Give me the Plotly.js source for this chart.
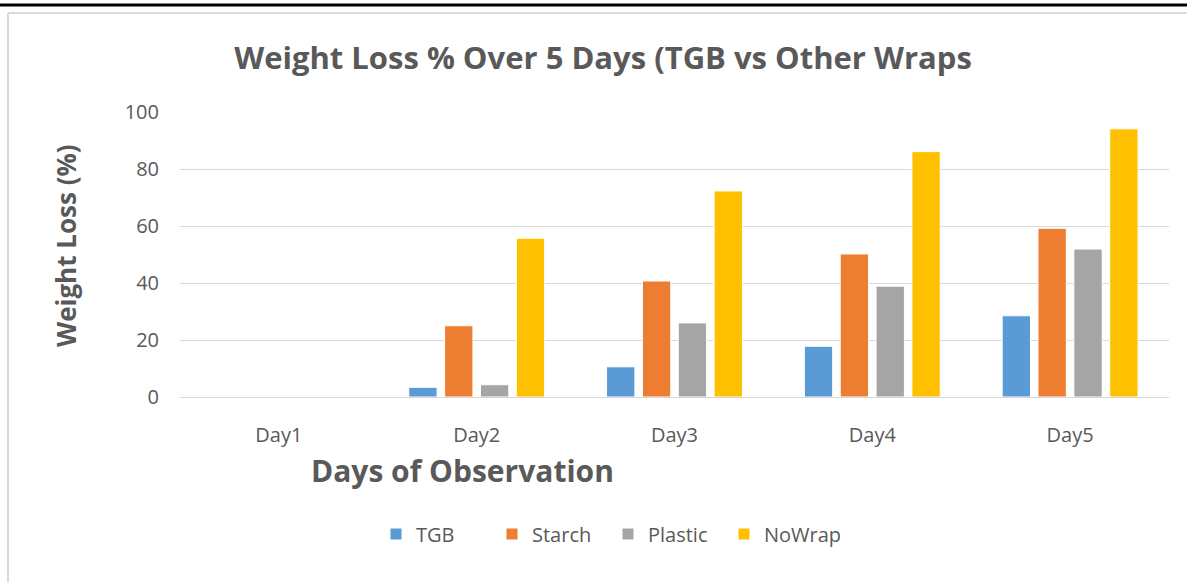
<!DOCTYPE html>
<html>
<head>
<meta charset="utf-8">
<script src="https://cdn.plot.ly/plotly-3.0.1.min.js"></script>
<style>
  html, body { margin: 0; padding: 0; background: #ffffff; }
  #chart { width: 1187px; height: 582px; }
</style>
</head>
<body>
<div id="chart"></div>
<script>
// values
const days = ['Day1', 'Day2', 'Day3', 'Day4', 'Day5'];
const tgb = [0, 3.4, 10.6, 17.8, 28.5];
const starch = [0, 25.0, 40.7, 50.2, 59.2];
const plastic = [0, 4.3, 26.0, 38.9, 51.9];
const noWrap = [0, 55.7, 72.3, 86.1, 94.1];

const seriesNames = ['TGB', 'Starch', 'Plastic', 'NoWrap'];
const seriesColors = ['#5B9BD5', '#ED7D31', '#A5A5A5', '#FFC000'];
const seriesValues = [tgb, starch, plastic, noWrap];

const textColor = '#595959';
const font = 'Open Sans, sans-serif';

let traces = [];
for (let i = 0; i < seriesNames.length; i++) {
  traces.push({
    type: 'bar',
    name: seriesNames[i],
    x: days,
    y: seriesValues[i],
    marker: { color: seriesColors[i], line: { color: '#ffffff', width: 1 } },
    hoverinfo: 'x+y+name'
  });
}

// plot area in pixels: x 180..1169, y 112..397
const px = (p) => (p - 180) / 989;
const py = (p) => (397 - p) / 285;

const layout = {
  width: 1187,
  height: 582,
  margin: { l: 180, r: 18, t: 112, b: 185 },
  paper_bgcolor: '#ffffff',
  plot_bgcolor: '#ffffff',
  font: { family: font, color: textColor, size: 20 },
  barmode: 'group',
  bargap: 0.275,
  bargroupgap: 0.21,
  title: {
    text: 'Weight Loss % Over 5 Days (TGB vs Other Wraps',
    font: { family: font, size: 31, color: textColor, weight: 'bold' },
    xref: 'container', x: 603 / 1187, xanchor: 'center',
    yref: 'container', y: 1 - 58 / 582, yanchor: 'middle'
  },
  xaxis: {
    type: 'category',
    showgrid: false,
    showline: true,
    linecolor: '#D9D9D9',
    linewidth: 1,
    ticks: '',
    ticklabelstandoff: 20,
    tickfont: { family: font, size: 20, color: textColor },
    fixedrange: true
  },
  yaxis: {
    range: [0, 100],
    dtick: 20,
    showgrid: true,
    gridcolor: '#D9D9D9',
    gridwidth: 1,
    zeroline: true,
    zerolinecolor: '#D9D9D9',
    showline: false,
    ticks: '',
    ticklabelstandoff: 20,
    tickfont: { family: font, size: 20, color: textColor },
    fixedrange: true
  },
  showlegend: true,
  legend: {
    orientation: 'h',
    x: px(608), xanchor: 'center',
    y: py(534), yanchor: 'middle',
    font: { family: font, size: 20, color: textColor },
    itemwidth: 30,
    entrywidth: 71,
    entrywidthmode: 'pixels',
    bgcolor: 'rgba(0,0,0,0)'
  },
  annotations: [
    {
      text: '<b>Days of Observation</b>',
      xref: 'paper', yref: 'paper',
      x: px(462), y: py(470),
      xanchor: 'center', yanchor: 'middle',
      showarrow: false,
      font: { family: font, size: 30, color: textColor }
    },
    {
      text: '<b>Weight Loss (%)</b>',
      xref: 'paper', yref: 'paper',
      x: px(66), y: py(246),
      xanchor: 'center', yanchor: 'middle',
      textangle: -90,
      showarrow: false,
      font: { family: font, size: 26, color: textColor }
    }
  ],
  shapes: [
    // black rule at the top of the page
    { type: 'line', xref: 'paper', yref: 'paper', x0: px(0), x1: px(1187), y0: py(5), y1: py(5),
      line: { color: '#000000', width: 3 } },
    // chart frame (top and left edges)
    { type: 'line', xref: 'paper', yref: 'paper', x0: px(8), x1: px(1187), y0: py(13), y1: py(13),
      line: { color: '#D9D9D9', width: 2 } },
    { type: 'line', xref: 'paper', yref: 'paper', x0: px(8), x1: px(8), y0: py(13), y1: py(582),
      line: { color: '#D9D9D9', width: 2 } }
  ]
};

Plotly.newPlot('chart', traces, layout, { displayModeBar: false, staticPlot: true });
</script>
</body>
</html>
